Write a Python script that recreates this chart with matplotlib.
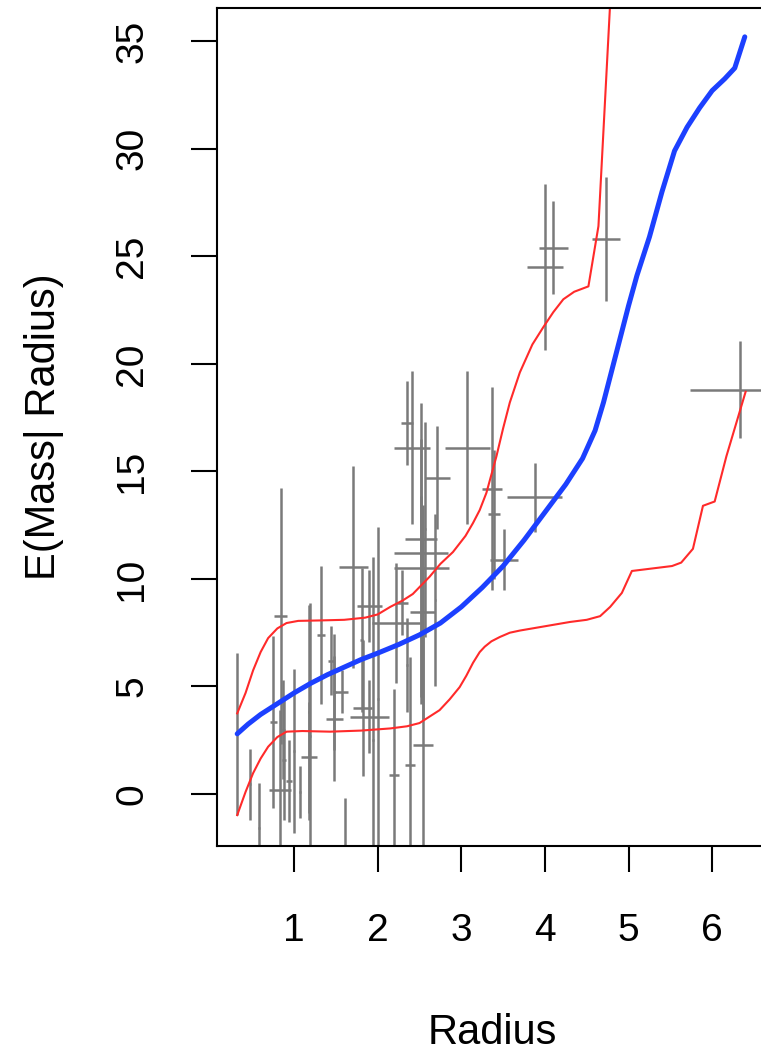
import numpy as np
import matplotlib
matplotlib.use("Agg")
import matplotlib.pyplot as plt

plt.rcParams['font.family'] = ['Liberation Sans', 'DejaVu Sans']

# observed planets: radius, mass, half widths of the error bars
radius = [0.32, 0.47, 0.58, 0.75, 0.84, 0.83, 0.88, 0.87, 0.94, 1.00,
          1.07, 1.18, 1.18, 1.19, 1.32, 1.44, 1.48, 1.48, 1.57, 1.61,
          1.71, 1.81, 1.82, 1.90, 1.90, 2.22, 1.94, 2.00, 2.19, 2.29,
          2.35, 2.39, 2.35, 2.41, 2.52, 2.52, 2.52, 2.54, 2.54, 2.57,
          2.71, 2.69, 3.07, 3.37, 3.39, 3.51, 3.88, 4.00, 4.10, 4.73,
          6.33]
mass = [2.79, 0.46, -1.58, 3.35, 8.28, 0.19, 1.58, 3.00, 0.60, 2.00,
        0.10, 3.80, 1.70, 2.70, 7.40, 6.20, 4.75, 3.50, 4.75, -3.80,
        10.55, 7.15, 4.00, 8.75, 3.60, 7.95, 2.50, 4.40, 0.90, 8.90,
        6.00, 1.35, 17.25, 16.10, 11.85, 11.20, 10.50, 8.45, 2.30, 12.30,
        14.70, 9.00, 16.10, 14.20, 13.00, 10.90, 13.80, 24.50, 25.40, 25.80,
        18.80]
r_err = [0.01, 0.01, 0.01, 0.04, 0.08, 0.13, 0.02, 0.02, 0.04, 0.01,
         0.01, 0.01, 0.10, 0.01, 0.05, 0.04, 0.02, 0.10, 0.08, 0.01,
         0.17, 0.02, 0.11, 0.15, 0.23, 0.29, 0.01, 0.01, 0.06, 0.07,
         0.01, 0.06, 0.07, 0.21, 0.19, 0.32, 0.33, 0.15, 0.12, 0.01,
         0.15, 0.01, 0.27, 0.12, 0.07, 0.17, 0.33, 0.22, 0.17, 0.17,
         0.60]
m_err = [3.77, 1.65, 2.10, 4.00, 5.95, 3.70, 2.80, 2.30, 1.90, 3.80,
         1.20, 5.00, 2.60, 6.20, 3.20, 1.60, 2.70, 2.90, 1.00, 3.60,
         4.70, 3.35, 3.15, 1.67, 1.70, 2.80, 8.50, 8.00, 4.00, 1.50,
         2.20, 5.00, 1.95, 3.55, 2.00, 7.00, 6.00, 5.00, 5.00, 5.00,
         2.40, 4.00, 3.55, 4.70, 3.00, 1.40, 1.60, 3.85, 2.15, 2.90,
         2.25]

# conditional mean E(Mass | Radius)
mean_r = [0.32, 0.45, 0.60, 0.80, 1.00, 1.20, 1.40, 1.60, 1.80, 2.00,
          2.25, 2.50, 2.75, 3.00, 3.25, 3.50, 3.75, 4.00, 4.25, 4.45,
          4.60, 4.70, 4.80, 4.90, 5.00, 5.10, 5.25, 5.40, 5.55, 5.70,
          5.85, 6.00, 6.15, 6.27, 6.39]
mean_m = [2.80, 3.25, 3.70, 4.20, 4.70, 5.15, 5.55, 5.90, 6.25, 6.55,
          6.95, 7.40, 7.95, 8.70, 9.60, 10.60, 11.80, 13.10, 14.40, 15.60,
          16.90, 18.20, 19.70, 21.20, 22.70, 24.10, 25.90, 28.00, 29.90, 31.00,
          31.90, 32.70, 33.25, 33.75, 35.20]

# upper band
up_r = [0.32, 0.42, 0.51, 0.60, 0.69, 0.80, 0.91, 1.05, 1.30, 1.60,
        1.85, 2.00, 2.15, 2.30, 2.42, 2.62, 2.75, 2.90, 3.05, 3.14,
        3.22, 3.30, 3.42, 3.50, 3.58, 3.70, 3.85, 3.98, 4.10, 4.22,
        4.35, 4.52, 4.64, 4.79]
up_m = [3.75, 4.70, 5.75, 6.60, 7.25, 7.70, 7.95, 8.05, 8.07, 8.10,
        8.20, 8.35, 8.70, 9.00, 9.30, 10.10, 10.70, 11.25, 12.00, 12.60,
        13.20, 14.00, 15.70, 17.00, 18.20, 19.60, 20.90, 21.70, 22.40, 23.00,
        23.35, 23.60, 26.40, 37.50]

# lower band
lo_r = [0.32, 0.42, 0.51, 0.60, 0.69, 0.80, 0.91, 1.10, 1.43, 1.80,
        2.15, 2.35, 2.50, 2.62, 2.74, 2.86, 2.98, 3.06, 3.14, 3.22,
        3.28, 3.36, 3.46, 3.58, 3.70, 4.00, 4.30, 4.50, 4.66, 4.78,
        4.92, 5.04, 5.52, 5.63, 5.77, 5.89, 6.03, 6.17, 6.40]
lo_m = [-0.98, 0.10, 0.97, 1.65, 2.20, 2.65, 2.90, 2.93, 2.90, 2.95,
        3.05, 3.15, 3.30, 3.60, 3.90, 4.40, 4.97, 5.50, 6.10, 6.60,
        6.85, 7.10, 7.30, 7.50, 7.60, 7.80, 8.00, 8.10, 8.27, 8.70,
        9.35, 10.37, 10.60, 10.76, 11.40, 13.40, 13.60, 15.70, 18.70]

fig = plt.figure(figsize=(7.61, 10.55), dpi=100)
ax = fig.add_axes([0.285, 0.198, 0.725, 0.7944])

ax.errorbar(radius, mass, xerr=r_err, yerr=m_err, fmt='none',
            ecolor='#7a7a7a', elinewidth=1.8, capsize=0)
ax.plot(up_r, up_m, color='#ff2a2a', lw=1.5)
ax.plot(lo_r, lo_m, color='#ff2a2a', lw=1.5)
ax.plot(mean_r, mean_m, color='#1c40ff', lw=3.6, solid_capstyle='round')

ax.set_xlim(0.077, 6.675)
ax.set_ylim(-2.42, 36.54)
ax.set_xticks([1, 2, 3, 4, 5, 6])
ax.set_yticks([0, 5, 10, 15, 20, 25, 30, 35])

for s in ax.spines.values():
    s.set_linewidth(1.5)
ax.tick_params(length=19, width=1.5, labelsize=28)
ax.tick_params(axis='x', pad=29)
ax.tick_params(axis='y', pad=29, labelrotation=90)
for t in ax.get_yticklabels():
    t.set_va('center')

ax.set_xlabel('Radius', fontsize=30, labelpad=46)
ax.set_ylabel('E(Mass| Radius)', fontsize=30, labelpad=36)

fig.savefig('out.png', dpi=100)
